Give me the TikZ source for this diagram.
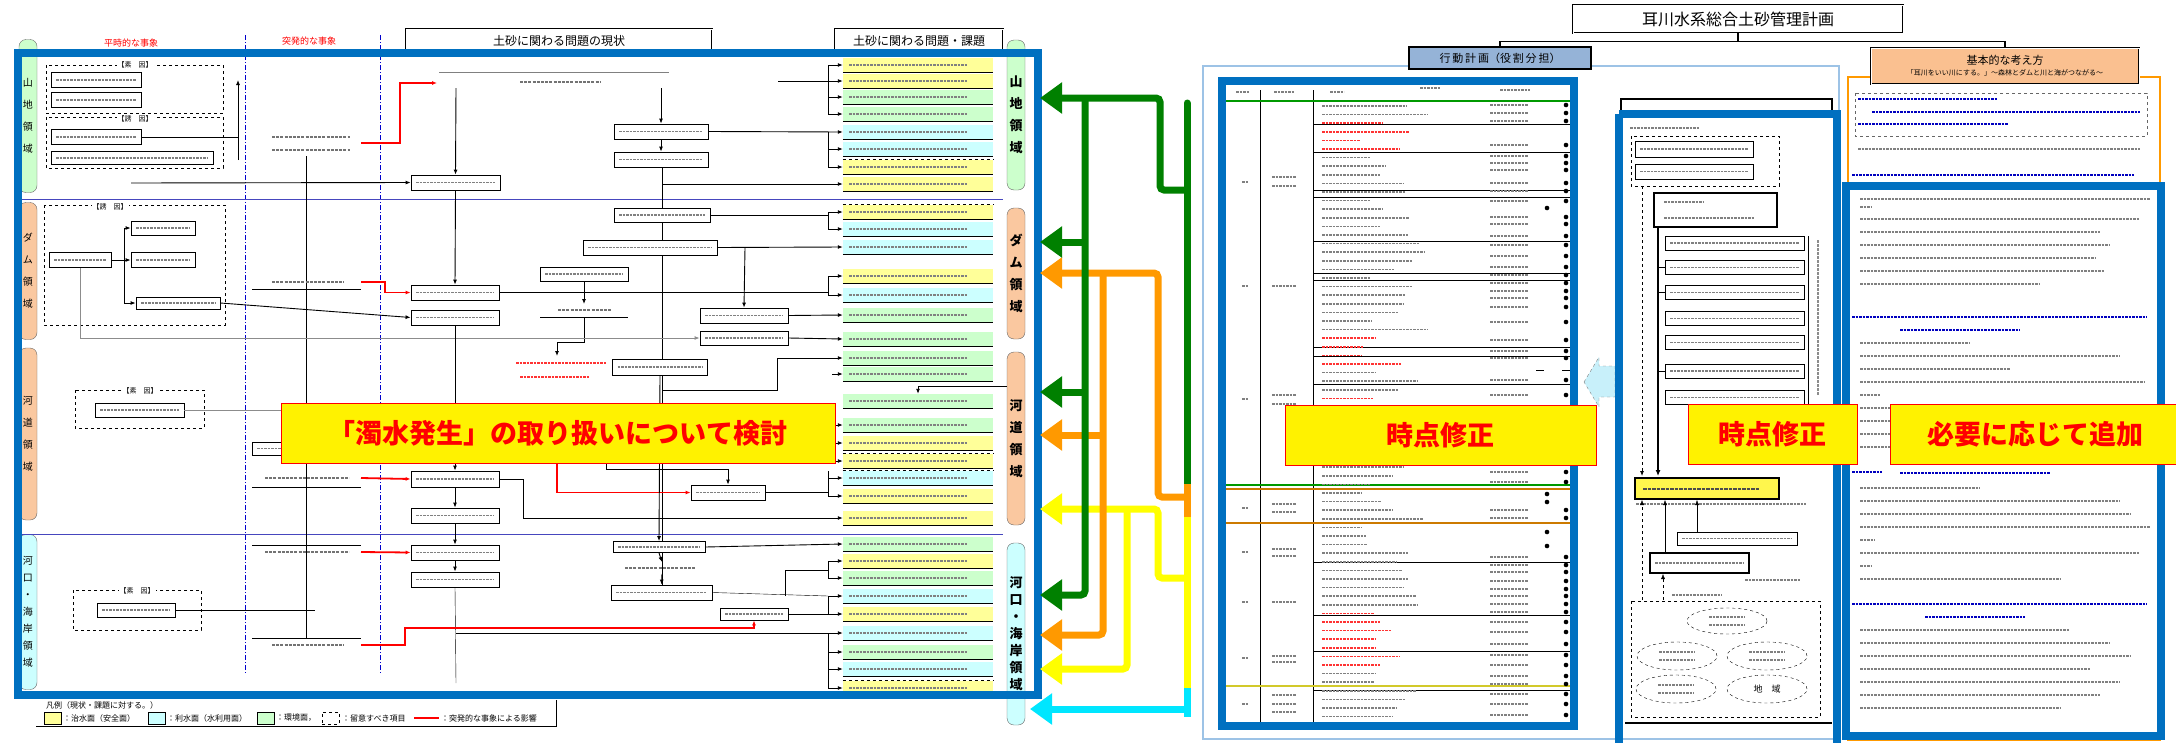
\documentclass[tikz,border=0pt]{standalone}
\usepackage{fontspec}
\setmainfont{Noto Sans CJK JP}
\usetikzlibrary{arrows.meta,shapes.geometric}

\definecolor{frameblue}{RGB}{0,112,192}
\definecolor{rowY}{RGB}{255,255,153}
\definecolor{rowC}{RGB}{204,255,255}
\definecolor{rowG}{RGB}{204,255,204}
\definecolor{arrG}{RGB}{0,128,0}
\definecolor{arrO}{RGB}{255,153,0}
\definecolor{arrY}{RGB}{255,255,0}
\definecolor{arrC}{RGB}{0,230,255}
\definecolor{regO}{RGB}{250,200,160}
\definecolor{baseO}{RGB}{250,192,144}
\definecolor{lineblue}{RGB}{157,195,230}
\definecolor{planblue}{RGB}{149,179,215}
\definecolor{divblue}{RGB}{70,70,190}
\definecolor{arrowfill}{RGB}{200,240,250}

\tikzset{
  txt/.style={line width=2.2pt, black!55, dash pattern=on 3pt off 1.2pt},
  tsmall/.style={line width=1.6pt, black!50, dash pattern=on 2.5pt off 1pt},
  tred/.style={tsmall, red!80},
  tblue/.style={tsmall, blue!75!black},
  fbox/.style={draw, line width=0.8pt, fill=white, inner sep=0pt,
    path picture={\draw[tsmall] ([xshift=5pt]path picture bounding box.west) -- ([xshift=-5pt]path picture bounding box.east);}},
  rowbar/.style={fill=#1, minimum width=150pt, minimum height=14pt, inner sep=0pt,
    path picture={\draw[tsmall] ([xshift=6pt]path picture bounding box.west) -- ([xshift=-25pt]path picture bounding box.east);}},
  soin/.style={draw, dashed, line width=0.8pt},
  soinlabel/.style={fill=white, inner sep=1pt, font=\fontsize{7}{7}\selectfont},
  region/.style={draw=black!60, fill=#1, rounded corners=7pt, minimum width=18pt, inner sep=0pt, align=center},
  colsep/.style={blue!80!black, line width=1pt, dash pattern=on 5pt off 2pt on 1pt off 2pt},
  hint/.style={fill=yellow, draw=red, line width=0.8pt, text=red, inner sep=0pt, font=\bfseries\fontsize{27}{27}\selectfont},
  bigframe/.style={draw=frameblue, line width=8pt},
  flow/.style={line width=0.9pt, -{Latex[length=5pt,width=4pt]}},
  redflow/.style={flow, red, line width=1.8pt},
  feed/.style={line width=7pt, rounded corners=4pt, -{Triangle[length=22pt,width=30pt]}},
  legtext/.style={anchor=west, inner sep=0pt, font=\fontsize{8}{8}\selectfont}
}

\begin{document}
\begin{tikzpicture}[x=1pt, y=-1pt]
\useasboundingbox (0,0) rectangle (2176,742);
\pgfmathsetseed{11}

% ---------- left panel: headers
\node[text=red, font=\fontsize{9}{9}\selectfont] (hdnormal) at (131,43) {平時的な事象};
\node[text=red, font=\fontsize{9}{9}\selectfont] (hdsudden) at (309,41) {突発的な事象};
\draw[tred] (278,50) -- ++(64,0);
\node[draw, double, line width=0.6pt, double distance=1pt, minimum width=306pt, minimum height=24pt, font=\fontsize{12}{12}\selectfont] (hdnow) at (559,41) {土砂に関わる問題の現状};
\node[draw, double, line width=0.6pt, double distance=1pt, minimum width=168pt, minimum height=24pt, font=\fontsize{12}{12}\selectfont] (hdtask) at (919,41) {土砂に関わる問題・課題};
\draw[colsep] (245,35) -- (245,673);
\draw[colsep] (380,35) -- (380,673);

% region labels
\node[region=rowG, minimum height=153pt, font=\fontsize{10}{22}\selectfont] (mtL) at (28,116) {山\\地\\領\\域};
\node[region=regO, minimum height=137pt, font=\fontsize{10}{22}\selectfont] (damL) at (28,271) {ダ\\ム\\領\\域};
\node[region=regO, minimum height=172pt, font=\fontsize{10}{22}\selectfont] (rivL) at (28,434) {河\\道\\領\\域};
\node[region=rowC, minimum height=155pt, font=\fontsize{10}{17}\selectfont] (estL) at (28,612) {河\\口\\・\\海\\岸\\領\\域};
\node[region=rowG, minimum height=150pt, font=\bfseries\fontsize{13}{22}\selectfont] (mtR) at (1016,115) {山\\地\\領\\域};
\node[region=regO, minimum height=131pt, font=\bfseries\fontsize{13}{22}\selectfont] (damR) at (1016,273.5) {ダ\\ム\\領\\域};
\node[region=regO, minimum height=173pt, font=\bfseries\fontsize{13}{22}\selectfont] (rivR) at (1016,438.5) {河\\道\\領\\域};
\node[region=rowC, minimum height=182pt, font=\bfseries\fontsize{13}{17}\selectfont] (estR) at (1016,634) {河\\口\\・\\海\\岸\\領\\域};

\draw[divblue, line width=0.8pt] (22,199) -- (1003,199);
\draw[divblue, line width=0.8pt] (22,534) -- (1003,534);

% problem bars
\foreach \y/\c in {65/rowY,81/rowY,97/rowG,114/rowG,132/rowC,149/rowC,167/rowY,184/rowY,
  212/rowY,229/rowC,247/rowC,276/rowY,295/rowC,315/rowG,339/rowG,
  358/rowG,374/rowG,401/rowG,425/rowG,443/rowY,461/rowY,478/rowC,496/rowY,518/rowY,
  544/rowG,561/rowY,578/rowG,596/rowC,614/rowY,633/rowC,652/rowG,669/rowC,688/rowY}{
  \node[rowbar=\c] (r\y) at (918,\y) {};
  \draw[line width=1pt] (r\y.south west) -- (r\y.south east);
}
\foreach \y in {167,212,461,478,688}
  \draw[dashed, line width=0.8pt] (r\y.north west) -- (r\y.north east);

% long verticals
\draw (306,156) -- (306,638);
\draw (662,167) -- (662,590);

% mountain area
\draw[soin] (46,65) rectangle (223,113);
\node[soinlabel] (soin1) at (135,65) {【素　因】};
\node[fbox, minimum width=90pt, minimum height=15pt] (geo) at (96,80) {};
\node[fbox, minimum width=90pt, minimum height=15pt] (geo2) at (96,100) {};
\draw[soin] (46,117) rectangle (223,168);
\node[soinlabel] (yuin1) at (135,119) {【誘　因】};
\node[fbox, minimum width=90pt, minimum height=15pt] (rain) at (96,137) {};
\node[fbox, minimum width=162pt, minimum height=13pt] (forest) at (132,158) {};
\draw (rain.east) -- (238,137);
\draw[flow] (238,160) -- (238,80);
\draw[txt] (272,137) -- ++(78,0);
\draw[txt] (272,150) -- ++(78,0);
\draw[redflow] (361,143) -- (400,143) -- (400,83) -- (437,83);
\draw[black!50] (439,72) -- (669,72);
\draw[txt] (520,82) -- ++(80,0);
\node[fbox, minimum width=89pt, minimum height=15pt] (outflow) at (455.5,182.5) {};
\draw[flow] (456,88) -- (outflow.north);
\draw[flow] (131,183) -- (outflow.west);
\node[fbox, minimum width=94pt, minimum height=15pt] (damsed) at (661,131.5) {};
\node[fbox, minimum width=94pt, minimum height=15pt] (forfunc) at (661,159.5) {};
\draw[flow] (661,88) -- (damsed.north);
\draw[flow] (damsed.south) -- (forfunc.north);
\draw[flow] (damsed.east) -- (r132.west);
\draw[flow] (778,81) -- (r81.west);
\draw (828,65) -- (828,114);
\foreach \r in {65,97,114} \draw[flow] (828,\r) -- (r\r.west);
\draw (828,132) -- (828,167);
\foreach \r in {149,167} \draw[flow] (828,\r) -- (r\r.west);
\draw[flow] (662,184) -- (r184.west);

% dam area
\draw[soin] (44,205) rectangle (225,325);
\node[soinlabel] (yuin2) at (110,207) {【誘　因】};
\node[fbox, minimum width=64pt, minimum height=14pt] (damsite) at (163,228) {};
\node[fbox, minimum width=62pt, minimum height=15pt] (damdep) at (80,260) {};
\node[fbox, minimum width=64pt, minimum height=15pt] (damflush) at (163,260) {};
\node[fbox, minimum width=84pt, minimum height=12pt] (damout) at (178,303) {};
\draw[flow] (damdep.east) -- (damflush.west);
\draw[flow] (124,260) |- (damsite.west);
\draw[flow] (124,260) |- (damout.west);
\draw[txt] (272,282) -- ++(72,0);
\draw (252,289) -- (361,289);
\node[fbox, minimum width=88pt, minimum height=15pt] (sandin) at (455,292.5) {};
\node[fbox, minimum width=88pt, minimum height=15pt] (sandin2) at (455,317.5) {};
\draw[redflow] (361,282) -- (385,282) -- (385,292.5) -- (sandin.west);
\draw[flow] (outflow.south) -- (sandin.north);
\draw[flow] (damout.east) -- (sandin2.west);
\draw (sandin.east) -- (828,292.5);
\draw (828,276) -- (828,295);
\foreach \r in {276,295} \draw[flow] (828,\r) -- (r\r.west);
\node[fbox, minimum width=88pt, minimum height=14pt] (sedmove) at (584,274) {};
\draw[flow] (sedmove.south) -- (584,304);
\draw[txt] (558,310) -- ++(54,0);
\draw (540,317) -- (628,317);
\draw[flow] (584,317) -- (584,342) -| (557,356);
\draw[tred] (516,363) -- ++(90,0);
\draw[tred] (520,377) -- ++(70,0);
\node[fbox, minimum width=96pt, minimum height=14pt] (damrisk) at (662,215) {};
\draw (damrisk.east) -- (828,215);
\draw (828,212) -- (828,229);
\foreach \r in {212,229} \draw[flow] (828,\r) -- (r\r.west);
\node[fbox, minimum width=134pt, minimum height=15pt] (damlevel) at (650,247.5) {};
\draw[flow] (damlevel.east) -- (r247.west);
\node[fbox, minimum width=88pt, minimum height=15pt] (sedgen) at (744,315.5) {};
\node[fbox, minimum width=88pt, minimum height=14pt] (sedgen2) at (744,338) {};
\draw[flow] (745,247.5) -- (sedgen.north);
\draw[flow] (sedgen.east) -- (r315.west);
\draw[flow] (sedgen2.east) -- (r339.west);
\draw[flow, black!45] (damdep.south) |- (sedgen2.west);
\node[fbox, minimum width=95pt, minimum height=16pt] (muddy) at (660,367) {};
\draw (662,390) -| (777,358);
\draw[flow] (777,358) -- (r358.west);

% river area
\draw[soin] (75,390) rectangle (204,428);
\node[soinlabel] (soin3) at (140,391) {【素　因】};
\node[fbox, minimum width=89pt, minimum height=14pt] (rivgeo) at (139.5,410) {};
\draw[black!45] (rivgeo.east) -- (290,410);
\node[fbox, minimum width=60pt, minimum height=13pt] (rivhid) at (282,448.5) {};
\draw[txt] (265,478) -- ++(84,0);
\draw (252,487) -- (361,487);
\node[fbox, minimum width=88pt, minimum height=16pt] (woodin) at (455,479) {};
\node[fbox, minimum width=88pt, minimum height=15pt] (woodgen) at (455,515.5) {};
\draw[flow] (sandin2.south) -- (woodin.north);
\draw[redflow] (361,478) -- (woodin.west);
\draw[flow] (woodin.south) -- (woodgen.north);
\draw[flow] (woodin.east) -- (523,479) |- (r518.west);
\node[fbox, minimum width=74pt, minimum height=15pt] (waterup) at (728,492.5) {};
\draw[redflow] (557,463) |- (waterup.west);
\draw[flow] (606,463) -- (606,469) -| (waterup.north);
\draw (waterup.east) -- (828,492.5);
\draw (828,471) -- (828,496);
\foreach \r in {478,496} \draw[flow] (828,\r) -- (r\r.west);
\draw (828,420) -- (828,461);
\foreach \r in {425,443,461} \draw[flow] (828,\r) -- (r\r.west);
\draw[flow] (832,374) -- (r374.west);
\coordinate (rivtap) at (1007,386);
\draw[flow] (rivtap) -| (r401.north);

% estuary area
\draw[txt] (265,552) -- ++(84,0);
\draw (252,545) -- (361,545);
\node[fbox, minimum width=88pt, minimum height=15pt] (estsand) at (455,552.5) {};
\node[fbox, minimum width=88pt, minimum height=15pt] (estwood) at (455,579.5) {};
\draw[redflow] (361,552) -- (estsand.west);
\draw[flow] (woodgen.south) -- (estsand.north);
\draw[flow] (estsand.south) -- (estwood.north);
\draw (estwood.south) -- (456,683);
\node[fbox, minimum width=92pt, minimum height=11pt] (estless) at (659,547) {};
\draw[txt] (625,568) -- ++(70,0);
\node[fbox, minimum width=101pt, minimum height=15pt] (estcoast) at (661.5,592.5) {};
\draw[flow] (muddy.south) -- (estless.north);
\draw[flow] (estless.south) -- (662,562);
\draw[flow] (662,574) -- (estcoast.north);
\draw[flow] (estless.east) -- (r544.west);
\draw (785,596) -- (785,570) -- (828,570);
\draw (828,561) -- (828,578);
\foreach \r in {561,578} \draw[flow] (828,\r) -- (r\r.west);
\draw[soin] (73,590) rectangle (201,630);
\node[soinlabel] (soin4) at (137,591) {【素　因】};
\node[fbox, minimum width=78pt, minimum height=14pt] (estgeo) at (136,610) {};
\draw (estgeo.east) -- (315,610);
\draw[txt] (272,645) -- ++(72,0);
\draw (252,638) -- (361,638);
\node[fbox, minimum width=68pt, minimum height=12pt] (coastfin) at (754,614) {};
\draw[redflow] (361,645) -- (405,645) -- (405,628) -- (754,628) -- (coastfin.south);
\draw (estcoast.east) -- (828,596);
\draw (coastfin.east) -- (828,614);
\draw (828,596) -- (828,614);
\foreach \r in {596,614} \draw[flow] (828,\r) -- (r\r.west);
\draw[flow] (456,633) -- (r633.west);
\draw (828,633) -- (828,688);
\foreach \r in {652,669,688} \draw[flow] (828,\r) -- (r\r.west);

% big frame of the left panel
\draw[bigframe] (18,53) rectangle (1038,695);

% legend
\draw (36,726) -- (556,726) -- (556,700);
\node[legtext] (legtitle) at (46,705) {凡例（現状・課題に対する。）};
\node[draw, fill=rowY, minimum width=17pt, minimum height=12pt, inner sep=0pt] (legY) at (52.5,718) {};
\node[legtext] (legYt) at (63,718) {：治水面（安全面）};
\node[draw, fill=rowC, minimum width=17pt, minimum height=12pt, inner sep=0pt] (legC) at (156.5,718) {};
\node[legtext] (legCt) at (167,718) {：利水面（水利用面）};
\node[draw, fill=rowG, minimum width=17pt, minimum height=12pt, inner sep=0pt] (legG) at (265.5,718) {};
\node[legtext] (legGt) at (276,718) {：環境面，};
\node[draw, dashed, minimum width=17pt, minimum height=12pt, inner sep=0pt] (legD) at (330.5,718) {};
\node[legtext] (legDt) at (342,718) {：留意すべき項目};
\draw[red, line width=1.8pt] (414,718) -- (439,718);
\node[legtext] (legRt) at (441,718) {：突発的な事象による影響};

% ---------- coloured feed arrows
\draw[arrC, feed] (1187,709) -- (1030,709);
\draw[arrY, feed] (1187,578) -- (1158,578) -- (1158,509) -- (1040,509);
\draw[arrY, feed] (1127,509) -- (1127,669) -- (1040,669);
\draw[arrO, feed] (1187,497) -- (1158,497) -- (1158,273) -- (1040,273);
\draw[arrO, feed] (1103,273) -- (1103,635) -- (1040,635);
\draw[arrO, feed] (1103,435) -- (1040,435);
\draw[arrG, feed] (1187,190) -- (1160,190) -- (1160,98) -- (1040,98);
\draw[arrG, feed] (1085,98) -- (1085,595) -- (1040,595);
\draw[arrG, feed] (1085,242) -- (1040,242);
\draw[arrG, feed] (1085,392) -- (1040,392);
\draw[arrG, line width=7pt, line cap=round] (1187,103) -- (1187,484);
\draw[arrO, line width=7pt] (1187,484) -- (1187,517);
\draw[arrY, line width=7pt] (1187,517) -- (1187,688);
\draw[arrC, line width=7pt] (1187,688) -- (1187,717);

% ---------- title
\node[draw, double, line width=0.9pt, double distance=1pt, minimum width=330pt, minimum height=28pt, font=\fontsize{16}{16}\selectfont] (title) at (1738,19) {耳川水系総合土砂管理計画};
\draw[lineblue, line width=1.5pt] (1203,66) rectangle (1839,739);
\node[draw, line width=1.2pt, fill=planblue, minimum width=182pt, minimum height=22pt, font=\fontsize{11}{11}\selectfont] (plan) at (1500,58) {行\,動\,計\,画（役\,割\,分\,担）};
\draw[line width=1.2pt] (title.south) -- ++(0,8) -| (plan.north);

% ---------- action plan table
\draw[line width=0.8pt] (1260,90) -- (1260,722);
\draw[line width=0.8pt] (1313,90) -- (1313,722);
\draw[tsmall] (1236,92) -- ++(14,0);
\draw[tsmall] (1274,92) -- ++(20,0);
\draw[tsmall] (1330,92) -- ++(14,0);
\draw[tsmall] (1420,88) -- ++(20,0);
\draw[tsmall] (1500,90) -- ++(30,0);
\draw[green!60!black, line width=1.2pt] (1226,101) -- (1570,101);
\foreach \y in {124,152,190,197,241,273,280,347,356,384,562,615,651,690}
  \draw[line width=1pt] (1313,\y) -- (1570,\y);
\draw[green!60!black, line width=1.2pt] (1226,485) -- (1570,485);
\draw[arrO!80!black, line width=1.2pt] (1226,489) -- (1570,489);
\draw[arrO!80!black, line width=1.2pt] (1226,523) -- (1570,523);
\draw[yellow!80!black, line width=1.2pt] (1226,686) -- (1570,686);
\foreach \y in {182,286,399,508,552,602,658,704}
  \draw[tsmall] (1242,\y) -- ++(6,0);
\foreach \y in {177,186,286,395,404,504,512,549,556,602,656,662,695,704,712}
  \draw[tsmall] (1272,\y) -- ++(24,0);
\foreach \i in {0,...,71}{
  \pgfmathsetmacro{\yy}{106+8.6*\i}
  \pgfmathsetmacro{\ll}{35+75*rnd}
  \pgfmathtruncatemacro{\isred}{((\yy>116 && \yy<150) || (\yy>330 && \yy<372) || (\yy>395 && \yy<420) || (\yy>612 && \yy<668)) ? 1 : 0}
  \ifnum\isred=1 \draw[tred] (1322,\yy) -- ++(\ll,0); \else \draw[tsmall] (1322,\yy) -- ++(\ll,0); \fi
}
\foreach \y in {105,113,121,145,156,163,170,183,191,201,217,224,236,245,256,267,275,283,291,298,307,322,340,351,358,380,395,472,482,510,518,557,565,572,581,589,596,604,612,622,632,644,655,665,676,684,694,704,715}{
  \fill (1566,\y) circle (2.3pt);
  \draw[tsmall] (1490,\y) -- ++(38,0);
}
\foreach \y in {208,494,502,532,546} \fill (1547,\y) circle (2.3pt);
\draw[line width=1pt] (1536,370) -- (1544,370);
\draw[line width=1pt] (1562,370) -- (1570,370);
\draw[bigframe] (1222,81) rectangle (1574,726);

% block arrow
\draw[black!50, dashed, fill=arrowfill] (1584,382) -- (1599,357) -- (1599,366) -- (1615,366) -- (1615,397) -- (1599,397) -- (1599,407) -- cycle;

% ---------- plan structure
\node[draw, line width=1.2pt, fill=white, minimum width=211pt, minimum height=18pt] (struct) at (1726.5,108) {};
\draw[tsmall] (1630,128) -- ++(70,0);
\draw[soin] (1631,136) rectangle (1779,186);
\node[fbox, minimum width=118pt, minimum height=16pt] (c1) at (1694,149) {};
\node[fbox, minimum width=118pt, minimum height=15pt] (c2) at (1694,171.5) {};
\node[draw, line width=1.5pt, fill=white, minimum width=123pt, minimum height=34pt, inner sep=0pt] (c3) at (1715.5,210) {};
\draw[tsmall] (1664,202) -- ++(40,0);
\draw[tsmall] (1664,218) -- ++(90,0);
\foreach \n/\y in {c4/243,c5/267.5,c6/292.5,c7/318.5,c8/342.5,c9/371,c10/397.5}
  \node[fbox, minimum width=139pt, minimum height=14pt] (\n) at (1734.5,\y) {};
\draw[dashed, line width=0.8pt, -{Latex[length=5pt,width=4pt]}] (1642,186) -- (1642,476);
\draw[line width=1.5pt, -{Latex[length=6pt,width=5pt]}] (1658,227) -- (1658,476);
\foreach \n in {c5,c6,c9} \draw[line width=0.8pt] (\n.west) -- ++(-7,0);
\draw (1808,236) -- (1808,404);
\draw[line width=1.4pt, black!45, dash pattern=on 3pt off 1pt] (1818,240) -- (1818,395);
\node[draw, line width=2pt, fill=yellow!70, minimum width=144pt, minimum height=21pt, inner sep=0pt,
  path picture={\draw[line width=2pt, black!70, dash pattern=on 3.5pt off 1pt] ([xshift=8pt]path picture bounding box.west) -- ([xshift=-20pt]path picture bounding box.east);}] (c11) at (1707,488.5) {};
\draw[tsmall] (1636,504) -- ++(170,0);
\node[fbox, minimum width=120pt, minimum height=13pt] (c12) at (1737,538.5) {};
\node[fbox, line width=1.3pt, minimum width=99pt, minimum height=20pt] (c13) at (1699.5,563) {};
\draw[tsmall] (1745,580) -- ++(55,0);
\draw[dashed, -{Latex[length=5pt,width=4pt]}] (1642,600) -- (1642,500);
\draw[-{Latex[length=5pt,width=4pt]}] (1665,553) -- (1665,500);
\draw[-{Latex[length=5pt,width=4pt]}] (1697,532) -- (1697,500);
\draw[dashed, -{Latex[length=5pt,width=4pt]}] (1663,600) -- (1663,574);
\draw[tsmall] (1672,595) -- ++(50,0);
\draw[soin] (1631,601) rectangle (1820,717);
\node[draw, dashed, ellipse, minimum width=80pt, minimum height=26pt, inner sep=0pt] (e1) at (1727,621) {};
\node[draw, dashed, ellipse, minimum width=80pt, minimum height=28pt, inner sep=0pt] (e2) at (1677,656) {};
\node[draw, dashed, ellipse, minimum width=80pt, minimum height=28pt, inner sep=0pt] (e3) at (1767,656) {};
\node[draw, dashed, ellipse, minimum width=80pt, minimum height=28pt, inner sep=0pt] (e4) at (1676,689) {};
\node[draw, dashed, ellipse, minimum width=80pt, minimum height=28pt, inner sep=0pt, font=\fontsize{9}{9}\selectfont] (e5) at (1767,689) {地　域};
\foreach \n in {e1,e2,e3,e4}{
  \draw[tsmall] ([xshift=-18pt,yshift=4pt]\n.center) -- ++(36,0);
  \draw[tsmall] ([xshift=-18pt,yshift=-4pt]\n.center) -- ++(36,0);
}
\draw[line width=2pt] (1625,723) -- (1832,723);
\draw[bigframe] (1619,114) -- (1837,114) -- (1837,750) (1619,114) -- (1619,750);

% ---------- basic concept panel
\draw[arrO, line width=2pt] (1848,77) rectangle (2160,740);
\node[draw, double, line width=0.9pt, double distance=1pt, fill=baseO, minimum width=268pt, minimum height=36pt, inner sep=0pt, align=center] (base) at (2005,66)
  {{\fontsize{11}{13}\selectfont 基本的な考え方}\\[-1pt]{\fontsize{7}{8}\selectfont 「耳川をいい川にする。」～森林とダムと川と海がつながる～}};
\draw[line width=1.2pt] (title.south) ++(0,8) -| (base.north);
\draw[soin, black!60] (1855,93) rectangle (2147,136);
\draw[tblue] (1858,99) -- ++(140,0);
\draw[tblue] (1872,112) -- ++(268,0);
\draw[tblue] (1858,124) -- ++(150,0);
\draw[tsmall] (1858,149) -- ++(282,0);
\draw[tblue] (1852,175) -- ++(282,0);
\foreach \y/\l in {199/290,207/12,219/280,232/240,245/250,258/235,271/245,284/180,
  343/110,356/260,369/150,382/285,395/20,408/40,421/40,434/40,447/40,
  488/120,501/260,514/270,527/290,540/15,553/280,566/12,579/200,
  630/210,643/250,656/270,669/230,682/260,695/240,708/200}
  \draw[tsmall] (1860,\y) -- ++(\l,0);
\draw[tblue] (1852,317) -- ++(295,0);
\draw[tblue] (1900,330) -- ++(120,0);
\draw[tblue] (1852,472) -- ++(30,0);
\draw[tblue] (1900,473) -- ++(150,0);
\draw[tblue] (1852,604) -- ++(295,0);
\draw[tblue] (1925,617) -- ++(100,0);
\draw[bigframe] (1846,186) rectangle (2161,736);

% ---------- notes on top
\node[hint, minimum width=554pt, minimum height=60pt] (lblmud) at (558,433) {「濁水発生」の取り扱いについて検討};
\node[hint, minimum width=311pt, minimum height=60pt] (lblfix1) at (1440.5,435) {時点修正};
\node[hint, minimum width=169pt, minimum height=60pt] (lblfix2) at (1772.5,434) {時点修正};
\node[hint, minimum width=290pt, minimum height=60pt] (lbladd) at (2035,434) {必要に応じて追加};
\end{tikzpicture}
\end{document}
